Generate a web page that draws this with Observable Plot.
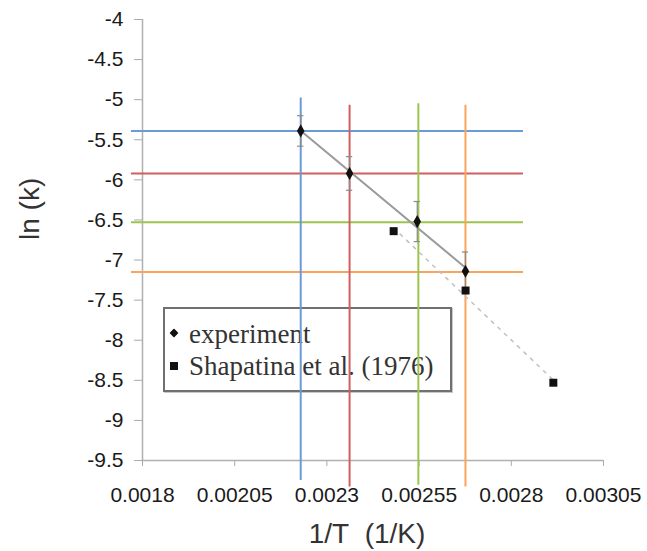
<!DOCTYPE html>
<html>
<head>
<meta charset="utf-8">
<script src="https://cdn.jsdelivr.net/npm/d3@7"></script>
<script src="https://cdn.jsdelivr.net/npm/@observablehq/plot@0.6"></script>
<style>
  html, body { margin: 0; padding: 0; background: #fff; }
  #wrap { position: relative; width: 647px; height: 551px; }
  #legend {
    position: absolute; left: 163px; top: 307px; width: 289px; height: 85px;
    box-sizing: border-box; border: 2px solid #707070; box-shadow: 1px 1px 0 #c8c8c8;
    font-family: "Liberation Serif", "Times New Roman", serif; font-size: 27px; color: #333;
    z-index: 0; background: #fff;
  }
  #legend .row { position: absolute; left: 24px; line-height: 32px; white-space: nowrap; }
  #legend .sym { position: absolute; left: 5px; width: 8px; height: 8px; background: #111; }
  #legend .sym.diamond { transform: rotate(45deg) scale(0.8); border-radius: 1px; }
  #plot { position: relative; z-index: 1; }
</style>
</head>
<body>
<div id="wrap">
  <div id="legend">
    <div class="sym diamond" style="top:20px"></div>
    <div class="row" style="top:9px">experiment</div>
    <div class="sym" style="top:53px"></div>
    <div class="row" style="top:41px">Shapatina et al. (1976)</div>
  </div>
  <div id="plot"></div>
</div>
<script>
// ---- data ----
const xTicks = [0.0018, 0.00205, 0.0023, 0.00255, 0.0028, 0.00305];
const yTicks = [-4, -4.5, -5, -5.5, -6, -6.5, -7, -7.5, -8, -8.5, -9, -9.5];

// experiment points (1/T, ln k) and error half-widths
const expX = [0.002229, 0.0023615, 0.002545, 0.0026757];
const expY = [-5.39, -5.92, -6.52, -7.14];
const expErr = [0.19, 0.21, 0.25, 0.24];

// Shapatina et al. (1976)
const shapX = [0.002481, 0.002676, 0.002914];
const shapY = [-6.64, -7.38, -8.53];

// coloured guide lines through each experiment temperature
const guideNames = ["T1", "T2", "T3", "T4"];
const guideX = [0.002229, 0.0023615, 0.002548, 0.0026757];
const guideY = [-5.39, -5.92, -6.53, -7.15];
const guideTop = [-4.98, -5.07, -5.05, -5.07];
const guideBottom = [-9.75, -9.83, -9.81, -9.83];
const guideLeft = 0.00177;
const guideRight = 0.002833;
const guideColors = ["#6a9bd6", "#d05f5f", "#9cc54e", "#f9a35b"];

// ---- derived tables ----
const guides = guideNames.map((n, i) => ({n, x: guideX[i], y: guideY[i], top: guideTop[i], bottom: guideBottom[i]}));
const exp = expX.map((x, i) => ({x, y: expY[i], e: expErr[i]}));
const shap = shapX.map((x, i) => ({x, y: shapY[i]}));

function fit(xs, ys) {
  const mx = d3.mean(xs), my = d3.mean(ys);
  const sxy = d3.sum(xs, (x, i) => (x - mx) * (ys[i] - my));
  const sxx = d3.sum(xs, x => (x - mx) ** 2);
  const b = sxy / sxx, a = my - b * mx;
  const x0 = d3.min(xs), x1 = d3.max(xs);
  return [{x: x0, y: a + b * x0}, {x: x1, y: a + b * x1}];
}
const expFit = fit(expX, expY);
const shapFit = fit(shapX, shapY);
const cap = 0.0000085;

const plot = Plot.plot({
  width: 647,
  height: 551,
  marginLeft: 142,
  marginRight: 44,
  marginTop: 19,
  marginBottom: 91,
  style: {background: "transparent", fontFamily: "'Liberation Sans', Arial, sans-serif"},
  x: {domain: [0.0018, 0.00305], label: null},
  y: {domain: [-9.5, -4], label: null},
  color: {type: "ordinal", domain: guideNames, range: guideColors},
  marks: [
    Plot.ruleX([0.0018], {stroke: "#b0b0b0", strokeWidth: 1.5}),
    Plot.ruleY([-9.5], {stroke: "#b0b0b0", strokeWidth: 1.5}),
    Plot.axisX(xTicks, {label: null, tickSize: 6, tickPadding: 21, tickFormat: d => String(d), fontSize: 21, stroke: "#aaa", fill: "#1a1a1a"}),
    Plot.axisY(yTicks, {label: null, tickSize: 8, tickPadding: 11, tickFormat: d => String(d), fontSize: 21, stroke: "#aaa", fill: "#1a1a1a"}),
    Plot.ruleY(guides, {y: "y", x1: guideLeft, x2: guideRight, stroke: "n", strokeWidth: 2}),
    Plot.ruleX(guides, {x: "x", y1: "top", y2: "bottom", stroke: "n", strokeWidth: 2}),
    Plot.line(shapFit, {x: "x", y: "y", stroke: "#c0c0c0", strokeWidth: 1.5, strokeDasharray: "3,6"}),
    Plot.line(expFit, {x: "x", y: "y", stroke: "#9a9a9a", strokeWidth: 2}),
    Plot.ruleX(exp, {x: "x", y1: d => d.y - d.e, y2: d => d.y + d.e, stroke: "#8a8a8a", strokeWidth: 1.2}),
    Plot.ruleY(exp, {y: d => d.y + d.e, x1: d => d.x - cap, x2: d => d.x + cap, stroke: "#8a8a8a", strokeWidth: 1.2}),
    Plot.ruleY(exp, {y: d => d.y - d.e, x1: d => d.x - cap, x2: d => d.x + cap, stroke: "#8a8a8a", strokeWidth: 1.2}),
    Plot.dot(exp, {x: "x", y: "y", symbol: "diamond", r: 4, fill: "#111", stroke: "none"}),
    Plot.dot(shap, {x: "x", y: "y", symbol: "square", r: 4.5, fill: "#111", stroke: "none"}),
    Plot.text(["ln (k)"], {frameAnchor: "left", dx: -112, rotate: -90, fontSize: 28, fill: "#333", lineAnchor: "middle"}),
    Plot.text(["1/T\u00a0\u00a0(1/K)"], {frameAnchor: "bottom", dy: 74, dx: -6, fontSize: 28, fill: "#333", lineAnchor: "middle"})
  ]
});
document.getElementById("plot").appendChild(plot);
</script>
</body>
</html>
